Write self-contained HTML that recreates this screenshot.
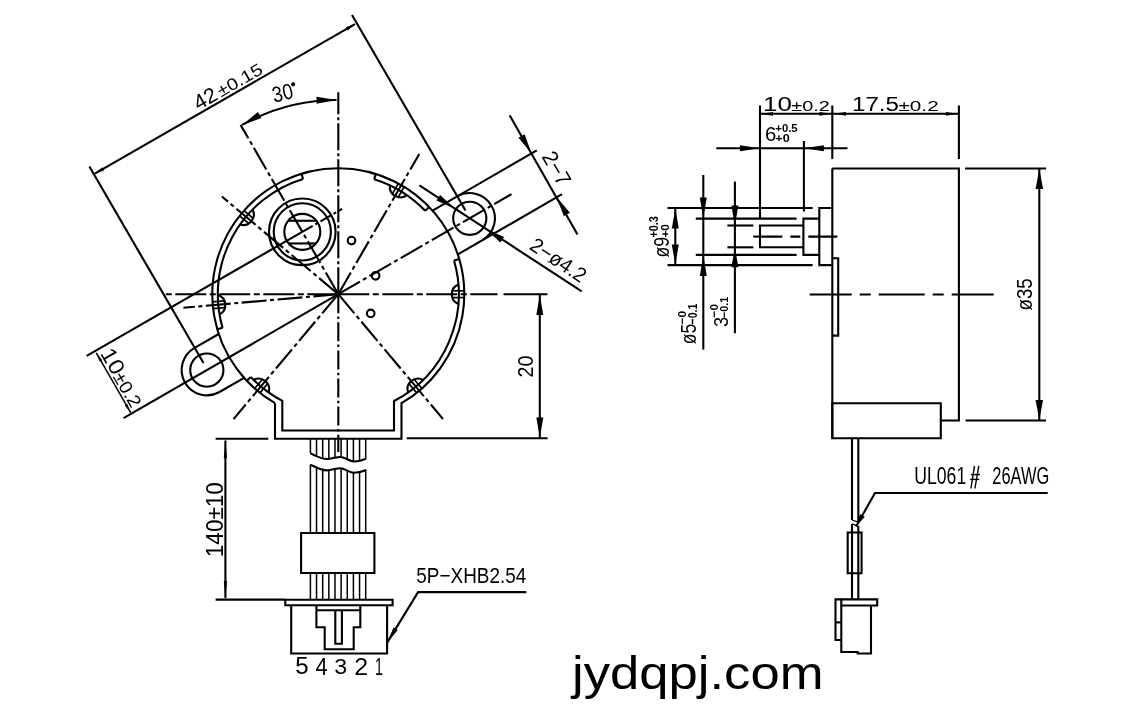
<!DOCTYPE html>
<html><head><meta charset="utf-8"><style>
html,body{margin:0;padding:0;background:#fff;width:1138px;height:721px;overflow:hidden}
svg{display:block;will-change:transform}
text{font-family:"Liberation Sans",sans-serif;fill:#000;stroke:none}
</style></head><body>
<svg width="1138" height="721" viewBox="0 0 1138 721" stroke="#000" stroke-linecap="butt" fill="none">
<line x1="338.3" y1="294.2" x2="164.2" y2="294.2" stroke-width="2.1" stroke-dasharray="31 3.5 6 3.5"/>
<line x1="338.3" y1="294.2" x2="497.5" y2="294.2" stroke-width="2.1" stroke-dasharray="31 3.5 6 3.5"/>
<line x1="503.5" y1="294.2" x2="547.5" y2="294.2" stroke-width="2.1"/>
<line x1="338.3" y1="294.2" x2="338.3" y2="92.2" stroke-width="2.1" stroke-dasharray="27 3 3 3"/>
<line x1="338.3" y1="294.2" x2="338.3" y2="452" stroke-width="2.1" stroke-dasharray="19 3.3 2.5 3.3"/>
<line x1="338.3" y1="294.2" x2="240.55" y2="124.89" stroke-width="2.1" stroke-dasharray="25 3.5 4 3.5"/>
<line x1="338.3" y1="294.2" x2="419.3" y2="153.9" stroke-width="2.1" stroke-dasharray="25 3.5 4 3.5"/>
<line x1="338.3" y1="294.2" x2="221.86" y2="196.5" stroke-width="2.1" stroke-dasharray="25 3.5 4 3.5"/>
<line x1="338.3" y1="294.2" x2="443.07" y2="419.07" stroke-width="2.1" stroke-dasharray="25 3.5 4 3.5"/>
<line x1="338.3" y1="294.2" x2="233.53" y2="419.07" stroke-width="2.1" stroke-dasharray="25 3.5 4 3.5"/>
<line x1="338.3" y1="294.2" x2="183.39" y2="307.75" stroke-width="2.1" stroke-dasharray="25 3.5 4 3.5"/>
<line x1="338.3" y1="294.2" x2="511.51" y2="194.2" stroke-width="2.1" stroke-dasharray="25 3.5 4 3.5"/>
<line x1="338.3" y1="294.2" x2="123.53" y2="418.2" stroke-width="2.1"/>
<line x1="302.3" y1="231.85" x2="86.7" y2="355.8" stroke-width="2.1"/>
<line x1="302.3" y1="231.85" x2="342.14" y2="208.85" stroke-width="2.1" stroke-dasharray="12 3 3 3"/>
<path d="M275,403.15 L275,438.8 L401.5,438.8 L401.5,403.2 A126.0,126.0 0 1 0 275,403.15" stroke-width="2.1" fill="none"/>
<path d="M250.75,376.99 A120.5,120.5 0 0 0 282.3,400.9 L282.3,430.5 L394,430.5 L394,401.05 A120.5,120.5 0 0 0 454.02,260.58" stroke-width="2.1" fill="none"/>
<line x1="250.75" y1="376.99" x2="246.75" y2="380.77" stroke-width="2.1"/>
<line x1="454.02" y1="260.58" x2="459.3" y2="259.05" stroke-width="2.1"/>
<path d="M222.58,327.82 A120.5,120.5 0 0 1 303.07,178.97" stroke-width="2.1" fill="none"/>
<line x1="222.58" y1="327.82" x2="217.3" y2="329.35" stroke-width="2.1"/>
<line x1="303.07" y1="178.97" x2="301.46" y2="173.71" stroke-width="2.1"/>
<path d="M374.13,179.15 A120.5,120.5 0 0 1 425.27,210.8" stroke-width="2.1" fill="none"/>
<line x1="374.13" y1="179.15" x2="375.77" y2="173.9" stroke-width="2.1"/>
<line x1="425.27" y1="210.8" x2="429.24" y2="206.99" stroke-width="2.1"/>
<path d="M458.4,284.45 A10.5,10.5 0 0 0 458.4,303.95" stroke-width="2.1" fill="none"/>
<line x1="452.8" y1="290.8" x2="464.3" y2="290.8" stroke-width="1.7"/>
<line x1="452.8" y1="297.6" x2="464.3" y2="297.6" stroke-width="1.7"/>
<path d="M422.97,379.94 A10.5,10.5 0 0 0 408.03,392.47" stroke-width="2.1" fill="none"/>
<line x1="414.5" y1="379.73" x2="421.9" y2="388.54" stroke-width="1.7"/>
<line x1="409.29" y1="384.1" x2="416.69" y2="392.91" stroke-width="1.7"/>
<path d="M268.57,392.47 A10.5,10.5 0 0 0 253.63,379.94" stroke-width="2.1" fill="none"/>
<line x1="267.31" y1="384.1" x2="259.91" y2="392.91" stroke-width="1.7"/>
<line x1="262.1" y1="379.73" x2="254.7" y2="388.54" stroke-width="1.7"/>
<path d="M219.5,314.38 A10.5,10.5 0 0 0 217.8,294.95" stroke-width="2.1" fill="none"/>
<line x1="224.53" y1="307.57" x2="213.08" y2="308.57" stroke-width="1.7"/>
<line x1="223.94" y1="300.79" x2="212.48" y2="301.79" stroke-width="1.7"/>
<path d="M240.03,224.47 A10.5,10.5 0 0 0 252.56,209.53" stroke-width="2.1" fill="none"/>
<line x1="248.4" y1="223.21" x2="239.59" y2="215.81" stroke-width="1.7"/>
<line x1="252.77" y1="218" x2="243.96" y2="210.6" stroke-width="1.7"/>
<path d="M389.91,185.31 A10.5,10.5 0 0 0 406.8,195.06" stroke-width="2.1" fill="none"/>
<line x1="392.61" y1="193.34" x2="398.36" y2="183.38" stroke-width="1.7"/>
<line x1="398.49" y1="196.74" x2="404.24" y2="186.78" stroke-width="1.7"/>
<circle cx="302.3" cy="231.85" r="33.3" stroke-width="2.1" fill="none"/>
<circle cx="302.3" cy="231.85" r="28.6" stroke-width="2.1" fill="none"/>
<circle cx="302.3" cy="231.85" r="18" stroke-width="2.1" fill="none"/>
<line x1="288.13" y1="220.75" x2="316.47" y2="220.75" stroke-width="2.1"/>
<line x1="288.54" y1="243.45" x2="316.06" y2="243.45" stroke-width="2.1"/>
<circle cx="351.5" cy="240.6" r="3.8" stroke-width="2.1" fill="none"/>
<circle cx="375.6" cy="275.8" r="3.8" stroke-width="2.1" fill="none"/>
<circle cx="370.7" cy="313.4" r="3.8" stroke-width="2.1" fill="none"/>
<circle cx="469.76" cy="218.3" r="16.6" stroke-width="2.1" fill="none"/>
<path d="M482.41,240.21 A25.3,25.3 0 0 0 457.11,196.39" stroke-width="2.1" fill="none"/>
<line x1="457.85" y1="254.39" x2="562.09" y2="194.21" stroke-width="2.1"/>
<line x1="432.55" y1="210.57" x2="536.79" y2="150.39" stroke-width="2.1"/>
<circle cx="206.84" cy="370.1" r="16.6" stroke-width="2.1" fill="none"/>
<path d="M194.19,348.19 A25.3,25.3 0 0 0 219.49,392.01" stroke-width="2.1" fill="none"/>
<line x1="218.75" y1="334.01" x2="194.19" y2="348.19" stroke-width="2.1"/>
<line x1="244.05" y1="377.83" x2="219.49" y2="392.01" stroke-width="2.1"/>
<line x1="94.9" y1="173.6" x2="355" y2="24.1" stroke-width="2.1"/>
<polygon points="94.9,173.6 102.23,167.29 104.03,170.41" fill="#000" stroke="none"/>
<polygon points="355,24.1 347.67,30.41 345.87,27.29" fill="#000" stroke="none"/>
<line x1="89.4" y1="166.5" x2="203.5" y2="363" stroke-width="2.1"/>
<line x1="352" y1="15" x2="465.5" y2="210.5" stroke-width="2.1"/>
<text transform="translate(198.41,110.85) rotate(-30)" font-size="21.07" textLength="24.05" lengthAdjust="spacingAndGlyphs">42</text>
<text transform="translate(220.88,97.58) rotate(-30)" font-size="16.79" textLength="49.86" lengthAdjust="spacingAndGlyphs">±0.15</text>
<path d="M242.2,124.9 A194.5,194.5 0 0 1 336.5,100" stroke-width="2.1" fill="none"/>
<polygon points="242.2,124.9 257.88,112.01 261.33,118.1" fill="#000" stroke="none"/>
<polygon points="336.5,100 316.56,103.85 316.44,96.85" fill="#000" stroke="none"/>
<text transform="translate(273.96,102.65) rotate(-13)" font-size="22.15" textLength="20.88" lengthAdjust="spacingAndGlyphs">30</text>
<circle cx="293.2" cy="84.3" r="1.5" stroke-width="1.2" fill="#000"/>
<line x1="509.6" y1="115.3" x2="577.5" y2="234.5" stroke-width="2.1"/>
<polygon points="531.55,153.4 518.52,137.83 524.58,134.33" fill="#000" stroke="none"/>
<polygon points="556.85,197.2 569.88,212.77 563.82,216.27" fill="#000" stroke="none"/>
<text transform="translate(541.23,156.44) rotate(60)" font-size="21.79" textLength="36.09" lengthAdjust="spacingAndGlyphs">2−7</text>
<line x1="419.4" y1="185.4" x2="581.7" y2="291.4" stroke-width="2.1"/>
<polygon points="455,208.7 436.43,200.55 440.1,194.95" fill="#000" stroke="none"/>
<polygon points="485.5,228.8 504.07,236.95 500.4,242.55" fill="#000" stroke="none"/>
<text transform="translate(528.25,248.57) rotate(33.7)" font-size="20.74" textLength="62.83" lengthAdjust="spacingAndGlyphs">2−ø4.2</text>
<line x1="96.3" y1="352.8" x2="130.7" y2="412.7" stroke-width="1.5"/>
<polygon points="96.3,352.8 102.31,360.3 99.79,361.75" fill="#000" stroke="none"/>
<polygon points="130.7,412.7 124.69,405.2 127.21,403.75" fill="#000" stroke="none"/>
<text transform="translate(99.72,353.21) rotate(60)" font-size="21.79" textLength="26.86" lengthAdjust="spacingAndGlyphs">10</text>
<text transform="translate(112.56,376.46) rotate(60)" font-size="18.22" textLength="37.43" lengthAdjust="spacingAndGlyphs">±0.2</text>
<line x1="539.8" y1="294.4" x2="539.8" y2="438.2" stroke-width="2.1"/>
<polygon points="539.8,295 543.3,315 536.3,315" fill="#000" stroke="none"/>
<polygon points="539.8,437.6 536.3,417.6 543.3,417.6" fill="#000" stroke="none"/>
<line x1="406.7" y1="438.3" x2="547.6" y2="438.3" stroke-width="2.1"/>
<text transform="translate(532.75,377.4) rotate(-90)" font-size="22.5" textLength="21.89" lengthAdjust="spacingAndGlyphs">20</text>
<line x1="310.4" y1="438.8" x2="310.4" y2="453.3" stroke-width="1.5"/>
<line x1="310.4" y1="464.6" x2="310.4" y2="532.8" stroke-width="1.5"/>
<line x1="316.54" y1="438.8" x2="316.54" y2="455.24" stroke-width="1.5"/>
<line x1="316.54" y1="466.54" x2="316.54" y2="532.8" stroke-width="1.5"/>
<line x1="322.69" y1="438.8" x2="322.69" y2="457.18" stroke-width="1.5"/>
<line x1="322.69" y1="468.48" x2="322.69" y2="532.8" stroke-width="1.5"/>
<line x1="328.83" y1="438.8" x2="328.83" y2="458.53" stroke-width="1.5"/>
<line x1="328.83" y1="469.83" x2="328.83" y2="532.8" stroke-width="1.5"/>
<line x1="334.98" y1="438.8" x2="334.98" y2="457.74" stroke-width="1.5"/>
<line x1="334.98" y1="469.04" x2="334.98" y2="532.8" stroke-width="1.5"/>
<line x1="341.12" y1="438.8" x2="341.12" y2="457.11" stroke-width="1.5"/>
<line x1="341.12" y1="468.41" x2="341.12" y2="532.8" stroke-width="1.5"/>
<line x1="347.26" y1="438.8" x2="347.26" y2="459.17" stroke-width="1.5"/>
<line x1="347.26" y1="470.47" x2="347.26" y2="532.8" stroke-width="1.5"/>
<line x1="353.41" y1="438.8" x2="353.41" y2="461.18" stroke-width="1.5"/>
<line x1="353.41" y1="472.48" x2="353.41" y2="532.8" stroke-width="1.5"/>
<line x1="359.55" y1="438.8" x2="359.55" y2="459.98" stroke-width="1.5"/>
<line x1="359.55" y1="471.28" x2="359.55" y2="532.8" stroke-width="1.5"/>
<line x1="365.7" y1="438.8" x2="365.7" y2="458.78" stroke-width="1.5"/>
<line x1="365.7" y1="470.08" x2="365.7" y2="532.8" stroke-width="1.5"/>
<path d="M310.4,453.3 C316,456 322,459.5 328,459 C334,458.5 337,456.5 341,457 C346,457.5 349,461.5 354,461.5 C359,461.5 363,460 366.1,458.7" stroke-width="2.1" fill="none"/>
<path d="M310.4,464.6 C316,467.3 322,470.8 328,470.3 C334,469.8 337,467.8 341,468.3 C346,468.8 349,472.8 354,472.8 C359,472.8 363,471.3 366.1,470" stroke-width="2.1" fill="none"/>
<polygon points="301.1,533 374.4,533 374.4,573 301.1,573" stroke-width="2.1" fill="none"/>
<line x1="310.4" y1="573" x2="310.4" y2="599.7" stroke-width="1.5"/>
<line x1="316.54" y1="573" x2="316.54" y2="599.7" stroke-width="1.5"/>
<line x1="322.69" y1="573" x2="322.69" y2="599.7" stroke-width="1.5"/>
<line x1="328.83" y1="573" x2="328.83" y2="599.7" stroke-width="1.5"/>
<line x1="334.98" y1="573" x2="334.98" y2="599.7" stroke-width="1.5"/>
<line x1="341.12" y1="573" x2="341.12" y2="599.7" stroke-width="1.5"/>
<line x1="347.26" y1="573" x2="347.26" y2="599.7" stroke-width="1.5"/>
<line x1="353.41" y1="573" x2="353.41" y2="599.7" stroke-width="1.5"/>
<line x1="359.55" y1="573" x2="359.55" y2="599.7" stroke-width="1.5"/>
<line x1="365.7" y1="573" x2="365.7" y2="599.7" stroke-width="1.5"/>
<polygon points="285.3,599.7 392.6,599.7 392.6,605.3 285.3,605.3" stroke-width="2.1" fill="none"/>
<polyline points="291.2,605.3 291.2,653.5 387.1,653.5 387.1,605.3" stroke-width="2.1" fill="none"/>
<polyline points="316.4,605.3 316.4,627.2 324.7,627.2 324.7,649.2 353.7,649.2 353.7,627.2 360.3,627.2 360.3,605.3" stroke-width="2.1" fill="none"/>
<line x1="316.4" y1="610.3" x2="360.3" y2="610.3" stroke-width="2.1"/>
<polyline points="335.3,610.3 335.3,643.7 341.9,643.7 341.9,610.3" stroke-width="2.1" fill="none"/>
<text transform="translate(295.2,674.35) rotate(0)" font-size="23.22" textLength="13.41" lengthAdjust="spacingAndGlyphs">5</text>
<text transform="translate(315.4,674.6) rotate(0)" font-size="23.58" textLength="12.16" lengthAdjust="spacingAndGlyphs">4</text>
<text transform="translate(334.3,674.35) rotate(0)" font-size="22.86" textLength="12.91" lengthAdjust="spacingAndGlyphs">3</text>
<text transform="translate(354.25,674.6) rotate(0)" font-size="23.22" textLength="13.91" lengthAdjust="spacingAndGlyphs">2</text>
<text transform="translate(375.1,674.6) rotate(0)" font-size="23.58" textLength="7.91" lengthAdjust="spacingAndGlyphs">1</text>
<polyline points="526.3,592.1 418.1,592.1 387.3,642.4" stroke-width="2.1" fill="none"/>
<polygon points="387.3,642.4 393.53,627.45 397.79,630.06" fill="#000" stroke="none"/>
<text transform="translate(416.35,583.15) rotate(0)" font-size="21.8" textLength="109.86" lengthAdjust="spacingAndGlyphs">5P−XHB2.54</text>
<line x1="215.6" y1="438.7" x2="268.3" y2="438.7" stroke-width="2.1"/>
<line x1="215.6" y1="599.6" x2="285" y2="599.6" stroke-width="2.1"/>
<line x1="225.4" y1="440.5" x2="225.4" y2="598" stroke-width="2.1"/>
<polygon points="225.4,440 227,458 223.8,458" fill="#000" stroke="none"/>
<polygon points="225.4,599 223.8,581 227,581" fill="#000" stroke="none"/>
<text transform="translate(223.25,557.15) rotate(-90)" font-size="23.58" textLength="74.94" lengthAdjust="spacingAndGlyphs">140±10</text>
<polyline points="832.3,168.5 958.9,168.5 958.9,420.5 940.8,420.5" stroke-width="2.1" fill="none"/>
<line x1="832.3" y1="168.5" x2="832.3" y2="438.2" stroke-width="2.1"/>
<polygon points="832.3,403.2 940.8,403.2 940.8,438.2 832.3,438.2" stroke-width="2.1" fill="none"/>
<polyline points="832.3,258.2 838.2,258.2 838.2,335.6 832.3,335.6" stroke-width="2.1" fill="none"/>
<polyline points="832.3,208 819.3,208 819.3,265.1 832.3,265.1" stroke-width="2.1" fill="none"/>
<polyline points="819.3,218.6 803.4,218.6 803.4,254.9 819.3,254.9" stroke-width="2.1" fill="none"/>
<polyline points="803.4,225.5 760,225.5 760,247.3 803.4,247.3" stroke-width="2.1" fill="none"/>
<line x1="667.5" y1="208" x2="812.6" y2="208" stroke-width="2.1"/>
<line x1="667.5" y1="265.1" x2="812.6" y2="265.1" stroke-width="2.1"/>
<line x1="695.8" y1="218.6" x2="796.6" y2="218.6" stroke-width="2.1"/>
<line x1="695.8" y1="254.9" x2="796.6" y2="254.9" stroke-width="2.1"/>
<line x1="727.4" y1="225.5" x2="753.3" y2="225.5" stroke-width="2.1"/>
<line x1="727.4" y1="247.3" x2="753.3" y2="247.3" stroke-width="2.1"/>
<line x1="760" y1="105.5" x2="760" y2="218.6" stroke-width="2.1"/>
<line x1="803.9" y1="141" x2="803.9" y2="211.6" stroke-width="2.1"/>
<line x1="832.3" y1="105.5" x2="832.3" y2="159" stroke-width="2.1"/>
<line x1="958.9" y1="105.5" x2="958.9" y2="159" stroke-width="2.1"/>
<line x1="753.3" y1="236.6" x2="837.6" y2="236.6" stroke-width="2.1" stroke-dasharray="29 8 10 8"/>
<line x1="809.7" y1="294.5" x2="994.3" y2="294.5" stroke-width="2.1" stroke-dasharray="42 8 11 8 46 8 11 8"/>
<line x1="760" y1="113.8" x2="832.3" y2="113.8" stroke-width="2.1"/>
<polygon points="761,113.8 773,111.95 773,115.65" fill="#000" stroke="none"/>
<polygon points="831.3,113.8 819.3,115.65 819.3,111.95" fill="#000" stroke="none"/>
<line x1="832.9" y1="113.8" x2="958.9" y2="113.8" stroke-width="2.1"/>
<polygon points="833.9,113.8 845.9,111.95 845.9,115.65" fill="#000" stroke="none"/>
<polygon points="957.9,113.8 945.9,115.65 945.9,111.95" fill="#000" stroke="none"/>
<text transform="translate(763.1,110.85) rotate(0)" font-size="20.72" textLength="28.81" lengthAdjust="spacingAndGlyphs">10</text>
<text transform="translate(791.3,110.85) rotate(0)" font-size="14.3" textLength="38.48" lengthAdjust="spacingAndGlyphs">±0.2</text>
<text transform="translate(851.95,110.85) rotate(0)" font-size="21.07" textLength="47.06" lengthAdjust="spacingAndGlyphs">17.5</text>
<text transform="translate(898.45,110.85) rotate(0)" font-size="14.3" textLength="40.23" lengthAdjust="spacingAndGlyphs">±0.2</text>
<text transform="translate(765,141.25) rotate(0)" font-size="20.72" textLength="11.31" lengthAdjust="spacingAndGlyphs">6</text>
<text transform="translate(775.3,132.05) rotate(0)" font-size="11.8" textLength="22.34" lengthAdjust="spacingAndGlyphs" font-weight="bold">+0.5</text>
<text transform="translate(775.3,142.15) rotate(0)" font-size="11.8" textLength="14.34" lengthAdjust="spacingAndGlyphs" font-weight="bold">+0</text>
<line x1="716.3" y1="148.2" x2="847.5" y2="148.2" stroke-width="2.1"/>
<polygon points="760,148.2 740,151.2 740,145.2" fill="#000" stroke="none"/>
<polygon points="803.9,148.2 823.9,145.2 823.9,151.2" fill="#000" stroke="none"/>
<line x1="675.3" y1="209" x2="675.3" y2="264.8" stroke-width="2.1"/>
<polygon points="675.3,208.6 678.8,228.6 671.8,228.6" fill="#000" stroke="none"/>
<polygon points="675.3,264.6 671.8,244.6 678.8,244.6" fill="#000" stroke="none"/>
<text transform="translate(668.7,257.6) rotate(-90)" font-size="22.17" textLength="20.64" lengthAdjust="spacingAndGlyphs">ø9</text>
<text transform="translate(658.05,237.6) rotate(-90)" font-size="12.52" textLength="21.4" lengthAdjust="spacingAndGlyphs" font-weight="bold">+0.3</text>
<text transform="translate(668.95,237.6) rotate(-90)" font-size="11.08" textLength="13.57" lengthAdjust="spacingAndGlyphs" font-weight="bold">+0</text>
<line x1="703.3" y1="175" x2="703.3" y2="349.6" stroke-width="2.1"/>
<polygon points="703.3,218.6 699.8,197.6 706.8,197.6" fill="#000" stroke="none"/>
<polygon points="703.3,254.9 706.8,275.9 699.8,275.9" fill="#000" stroke="none"/>
<text transform="translate(696.4,344.2) rotate(-90)" font-size="21.8" textLength="20.36" lengthAdjust="spacingAndGlyphs">ø5</text>
<text transform="translate(686.15,324.4) rotate(-90)" font-size="11.44" textLength="13.59" lengthAdjust="spacingAndGlyphs" font-weight="bold">−0</text>
<text transform="translate(696.9,324.4) rotate(-90)" font-size="13.58" textLength="20.67" lengthAdjust="spacingAndGlyphs" font-weight="bold">−0.1</text>
<line x1="734.9" y1="181.6" x2="734.9" y2="333.2" stroke-width="2.1"/>
<polygon points="734.9,225.5 731.4,205.5 738.4,205.5" fill="#000" stroke="none"/>
<polygon points="734.9,247.3 738.4,267.3 731.4,267.3" fill="#000" stroke="none"/>
<text transform="translate(727.65,326.95) rotate(-90)" font-size="21.08" textLength="10.08" lengthAdjust="spacingAndGlyphs">3</text>
<text transform="translate(717.55,317.4) rotate(-90)" font-size="11.8" textLength="13.36" lengthAdjust="spacingAndGlyphs" font-weight="bold">−0</text>
<text transform="translate(727.9,318.1) rotate(-90)" font-size="11.45" textLength="21.33" lengthAdjust="spacingAndGlyphs" font-weight="bold">−0.1</text>
<line x1="1039.3" y1="168.5" x2="1039.3" y2="420.5" stroke-width="2.1"/>
<polygon points="1039.3,169 1043.05,189 1035.55,189" fill="#000" stroke="none"/>
<polygon points="1039.3,420 1035.55,400 1043.05,400" fill="#000" stroke="none"/>
<line x1="965.5" y1="420.5" x2="1046" y2="420.5" stroke-width="2.1"/>
<line x1="965" y1="168.5" x2="1046" y2="168.5" stroke-width="2.1"/>
<text transform="translate(1032.4,310.5) rotate(-90)" font-size="22.88" textLength="32.17" lengthAdjust="spacingAndGlyphs">ø35</text>
<line x1="852" y1="438.2" x2="852" y2="520" stroke-width="2.1"/>
<line x1="858.3" y1="438.2" x2="858.3" y2="522.2" stroke-width="2.1"/>
<line x1="852" y1="520" x2="858.3" y2="522.2" stroke-width="1.3"/>
<line x1="852" y1="523.9" x2="858.3" y2="526.1" stroke-width="1.3"/>
<line x1="852" y1="523.9" x2="852" y2="599.4" stroke-width="2.1"/>
<line x1="858.3" y1="526.1" x2="858.3" y2="599.4" stroke-width="2.1"/>
<polygon points="847.7,532.5 861.6,532.5 861.6,573.2 847.7,573.2" stroke-width="2.1" fill="none"/>
<polygon points="841.3,599.4 877.2,599.4 877.2,605.5 841.3,605.5" stroke-width="2.1" fill="none"/>
<polyline points="841.3,599.4 835.5,599.4 835.5,640 841.3,640" stroke-width="2.1" fill="none"/>
<line x1="835.5" y1="622.4" x2="841.3" y2="622.4" stroke-width="2.1"/>
<polyline points="841.3,605.5 841.3,652 857.7,652 857.7,653.5 871,653.5 871,605.5" stroke-width="2.1" fill="none"/>
<polyline points="1047.7,493 875,493 856,526.6" stroke-width="2.1" fill="none"/>
<polygon points="856,526.6 860.01,513.93 864.79,516.64" fill="#000" stroke="none"/>
<text transform="translate(914.25,484.25) rotate(0)" font-size="23.22" textLength="51.93" lengthAdjust="spacingAndGlyphs">UL061</text>
<text transform="translate(992.25,484.25) rotate(0)" font-size="23.22" textLength="56.93" lengthAdjust="spacingAndGlyphs">26AWG</text>
<line x1="974.5" y1="465.9" x2="970.9" y2="488.5" stroke-width="1.4"/>
<line x1="978.8" y1="465.9" x2="974.9" y2="488.5" stroke-width="1.4"/>
<line x1="970.9" y1="474.6" x2="980" y2="474.6" stroke-width="1.4"/>
<line x1="970.1" y1="479.4" x2="979.2" y2="479.4" stroke-width="1.4"/>
<text transform="translate(571.95,689.05) rotate(0)" font-size="46.67" textLength="251.62" lengthAdjust="spacingAndGlyphs">jydqpj.com</text>
</svg>
</body></html>
